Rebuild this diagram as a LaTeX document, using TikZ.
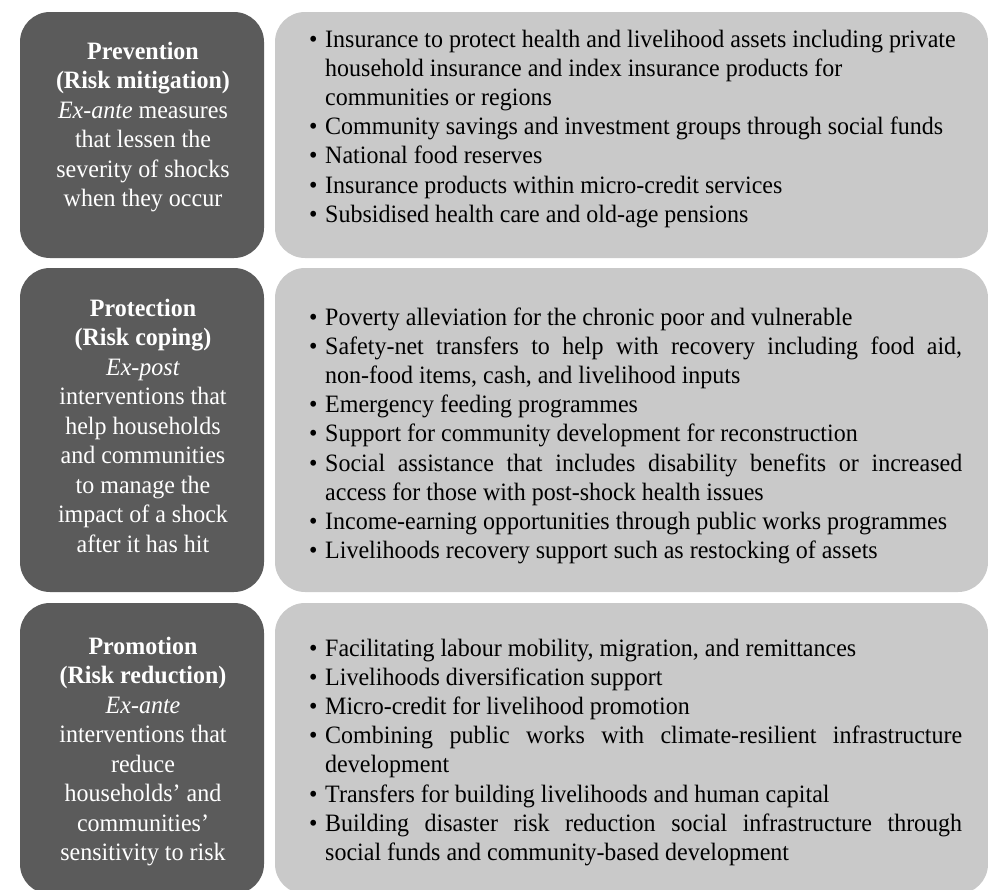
\documentclass[tikz,border=0pt]{standalone}
\usepackage{fontspec}
\setmainfont{Liberation Serif}[FakeStretch=0.96]
\definecolor{darkpanel}{HTML}{5B5B5B}
\definecolor{lightpanel}{HTML}{C9C9C9}
% one bullet item with a hanging indent
\newcommand{\bitem}{\hangindent=16pt\hangafter=1\noindent\makebox[16pt][l]{\textbullet}}
% text blocks whose reference point is the baseline of their first line
\newcommand{\headblock}[1]{\vtop{\hsize=240pt\centering\fontsize{25pt}{29.5pt}\selectfont #1\par}}
\newcommand{\listblock}[1]{\vtop{\hsize=653pt\parindent=0pt\parskip=0pt
  \hyphenpenalty=10000\exhyphenpenalty=10000\fontsize{25pt}{29.2pt}\selectfont #1\par}}
\begin{document}
\begin{tikzpicture}[x=1pt,y=-1pt,
  headbox/.style={fill=darkpanel, draw=none, rounded corners=30pt},
  listbox/.style={fill=lightpanel, draw=none, rounded corners=30pt},
  headtext/.style={text=white, inner sep=0pt, anchor=base},
  listtext/.style={text=black, inner sep=0pt, anchor=base west}]
\useasboundingbox (0,0) rectangle (988,889);

% left column: the three strategy headings
\path[headbox] (20,12) rectangle (264,258);
\path[headbox] (20,268) rectangle (264,592);
\path[headbox] (20,603) rectangle (264,894);
% right column: the measures for each strategy
\path[listbox] (275,12) rectangle (988,258);
\path[listbox] (275,268) rectangle (988,592);
\path[listbox] (275,603) rectangle (988,894);

\node[headtext] (prev) at (143,59) {\headblock{\textbf{Prevention}\\\textbf{(Risk mitigation)}\\\textit{Ex-ante} measures\\that lessen the\\severity of shocks\\when they occur}};
\node[headtext] (prot) at (143,316) {\headblock{\textbf{Protection}\\\textbf{(Risk coping)}\\\textit{Ex-post}\\interventions that\\help households\\and communities\\to manage the\\impact of a shock\\after it has hit}};
\node[headtext] (prom) at (143,654) {\headblock{\textbf{Promotion}\\\textbf{(Risk reduction)}\\\textit{Ex-ante}\\interventions that\\reduce\\households' and\\communities'\\sensitivity to risk}};

\node[listtext] (prevlist) at (309,47) {\listblock{%
\bitem Insurance to protect health and livelihood assets including private\hfil\break household insurance and index insurance products for\hfil\break communities or regions\par
\bitem Community savings and investment groups through social funds\par
\bitem National food reserves\par
\bitem Insurance products within micro-credit services\par
\bitem Subsidised health care and old-age pensions}};

\node[listtext] (protlist) at (309,325) {\listblock{%
\bitem Poverty alleviation for the chronic poor and vulnerable\par
\bitem Safety-net transfers to help with recovery including food aid,\break non-food items, cash, and livelihood inputs\par
\bitem Emergency feeding programmes\par
\bitem Support for community development for reconstruction\par
\bitem Social assistance that includes disability benefits or increased\break access for those with post-shock health issues\par
\bitem Income-earning opportunities through public works programmes\par
\bitem Livelihoods recovery support such as restocking of assets}};

\node[listtext] (promlist) at (309,656) {\listblock{%
\bitem Facilitating labour mobility, migration, and remittances\par
\bitem Livelihoods diversification support\par
\bitem Micro-credit for livelihood promotion\par
\bitem Combining public works with climate-resilient infrastructure\break development\par
\bitem Transfers for building livelihoods and human capital\par
\bitem Building disaster risk reduction social infrastructure through\break social funds and community-based development}};
\end{tikzpicture}
\end{document}
